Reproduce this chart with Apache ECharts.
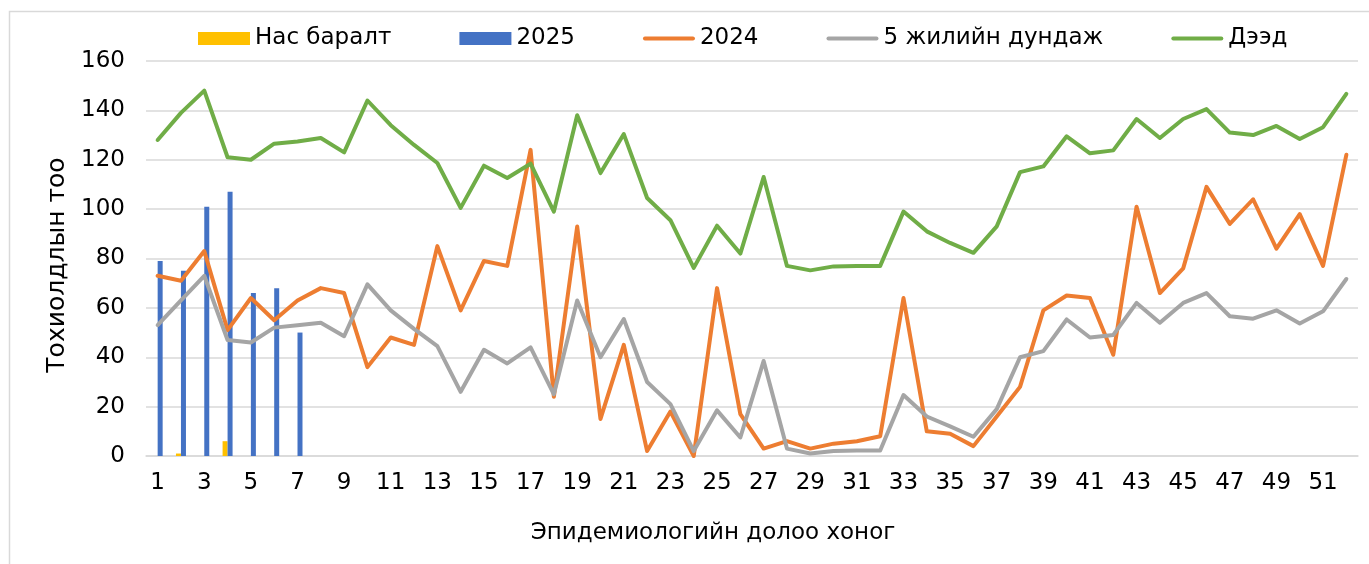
<!DOCTYPE html>
<html>
<head>
<meta charset="utf-8">
<script src="https://cdn.jsdelivr.net/npm/echarts@6/dist/echarts.min.js"></script>
<style>
  html, body { margin: 0; padding: 0; background: #fff; }
  #chart { width: 1369px; height: 564px; }
</style>
</head>
<body>
<div id="chart"></div>
<script>
var weeks = ['1','2','3','4','5','6','7','8','9','10','11','12','13','14','15','16','17','18','19','20',
    '21','22','23','24','25','26','27','28','29','30','31','32','33','34','35','36','37','38','39','40',
    '41','42','43','44','45','46','47','48','49','50','51','52'];

var deaths = [0, 1, 0, 6, 0, 0, 0];
var cases2025 = [79, 75, 101, 107, 66, 68, 50];
var cases2024 = [73, 71, 83, 51, 64, 55, 63, 68, 66, 36, 48, 45, 85, 59, 79, 77, 124, 24, 93, 15,
    45, 2, 18, 0, 68, 17, 3, 6, 3, 5, 6, 8, 64, 10, 9, 4, 16, 28, 59, 65,
    64, 41, 101, 66, 76, 109, 94, 104, 84, 98, 77, 122];
var avg5 = [53, 63, 73, 47, 46, 52, 53, 54, 48.5, 69.5, 59, 51.5, 44.5, 26, 43, 37.5, 44, 25, 63, 40,
    55.5, 30, 21, 2, 18.5, 7.5, 38.5, 3, 1, 2, 2.2, 2.2, 24.7, 16, 12, 7.8, 19, 40, 42.5, 55.3,
    48, 49, 62, 54, 62, 66, 56.6, 55.6, 59, 53.7, 58.6, 71.7];
var upper = [128, 139, 148, 121, 120, 126.5, 127.4, 128.8, 123, 144, 134, 126, 118.7, 100.5, 117.6, 112.6, 118.4, 99, 138, 114.6,
    130.4, 104.5, 95.5, 76.2, 93.3, 82, 113, 77, 75.2, 76.8, 77, 77, 99, 91, 86.3, 82.3, 93, 115, 117.3, 129.5,
    122.6, 123.8, 136.5, 128.8, 136.5, 140.5, 131, 130, 133.7, 128.4, 133.2, 146.7];

var yTicks = [0, 20, 40, 60, 80, 100, 120, 140, 160];

var font = '"DejaVu Sans", sans-serif';
var lineIcon = 'path://M2,0 H50 A2,2 0 0 1 50,4 H2 A2,2 0 0 1 2,0 Z';

var dom = document.getElementById('chart');
var myChart = echarts.init(dom, null, { renderer: 'canvas' });

function lineSeries(name, data, color) {
    return {
        name: name,
        type: 'line',
        data: data,
        symbol: 'none',
        showSymbol: false,
        z: 3,
        color: color,
        lineStyle: { width: 4, color: color, join: 'round', cap: 'round' }
    };
}

var option = {
    animation: false,
    backgroundColor: '#fff',
    textStyle: { fontFamily: font },
    graphic: [{
        type: 'rect',
        left: 7, top: 9,
        shape: { width: 1400, height: 600 },
        style: { fill: 'none', stroke: '#d9d9d9', lineWidth: 1.5 },
        silent: true
    }],
    legend: {
        left: 193,
        top: 22,
        itemGap: 68,
        itemWidth: 52,
        itemHeight: 13,
        textStyle: { fontFamily: font, fontSize: 23, color: '#000' },
        data: [
            { name: 'Нас баралт', icon: 'rect' },
            { name: '2025', icon: 'rect' },
            { name: '2024', icon: lineIcon },
            { name: '5 жилийн дундаж', icon: lineIcon },
            { name: 'Дээд', icon: lineIcon }
        ]
    },
    grid: { left: 146, right: 11, top: 61, bottom: 108 },
    xAxis: {
        type: 'category',
        data: weeks,
        boundaryGap: true,
        name: 'Эпидемиологийн долоо хоног',
        nameLocation: 'middle',
        nameGap: 66,
        nameTextStyle: { fontFamily: font, fontSize: 23, color: '#000', padding: [0, 78, 0, 0] },
        axisLine: { lineStyle: { color: '#d9d9d9', width: 1.5 } },
        axisTick: { show: false },
        axisLabel: { interval: 1, margin: 16, fontFamily: font, fontSize: 23, color: '#000' }
    },
    yAxis: {
        type: 'value',
        min: yTicks[0],
        max: yTicks[yTicks.length - 1],
        interval: 20,
        name: 'Тохиолдлын тоо',
        nameLocation: 'middle',
        nameGap: 72,
        nameTextStyle: { fontFamily: font, fontSize: 25, color: '#000', padding: [0, 13, 0, 0] },
        axisLine: { show: false },
        axisTick: { show: false },
        axisLabel: { margin: 21, fontFamily: font, fontSize: 23, color: '#000' },
        splitLine: { lineStyle: { color: '#d9d9d9', width: 1.5 } }
    },
    series: [
        {
            name: 'Нас баралт',
            type: 'bar',
            data: deaths,
            barWidth: 5,
            barGap: '0%',
            color: '#FFC000',
            itemStyle: { color: '#FFC000' }
        },
        {
            name: '2025',
            type: 'bar',
            data: cases2025,
            barWidth: 5,
            barGap: '0%',
            color: '#4472C4',
            itemStyle: { color: '#4472C4' }
        },
        lineSeries('2024', cases2024, '#ED7D31'),
        lineSeries('5 жилийн дундаж', avg5, '#A5A5A5'),
        lineSeries('Дээд', upper, '#70AD47')
    ]
};

myChart.setOption(option);
</script>
</body>
</html>
